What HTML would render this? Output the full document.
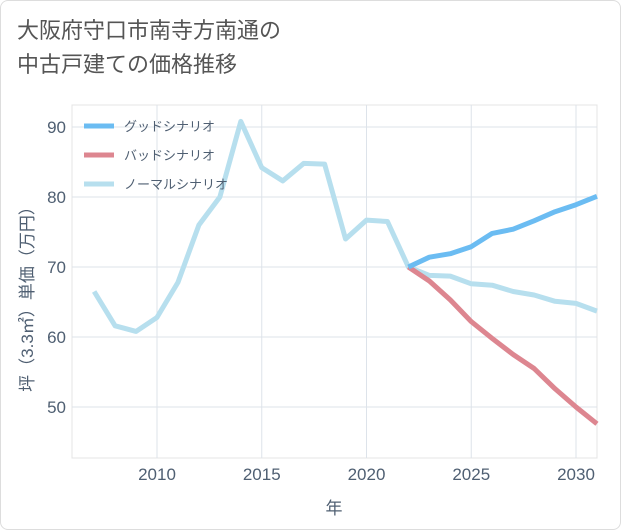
<!DOCTYPE html>
<html><head><meta charset="utf-8">
<style>
body{margin:0;background:#fff;font-family:"Liberation Sans","Noto Sans CJK JP",sans-serif;}
#wrap{position:relative;width:619px;height:528px;border:1px solid #ddd;border-radius:8px;background:#fff;overflow:hidden}
#title{position:absolute;left:16px;top:13px;font-size:22px;line-height:34px;color:#555;}
</style></head><body>
<div id="wrap">
<div id="title">大阪府守口市南寺方南通の<br>中古戸建ての価格推移</div>
<svg id="chart" width="621" height="530" style="position:absolute;left:-1px;top:-1px"></svg>
</div>
<script>
const years=[2007,2008,2009,2010,2011,2012,2013,2014,2015,2016,2017,2018,2019,2020,2021,2022,2023,2024,2025,2026,2027,2028,2029,2030,2031];
const normal=[66.5,61.6,60.8,62.8,67.8,76,80,90.8,84.2,82.3,84.8,84.7,74,76.7,76.5,70,68.8,68.7,67.6,67.4,66.5,66,65.1,64.8,63.7];
const futureYears=[2022,2023,2024,2025,2026,2027,2028,2029,2030,2031];
const good=[70,71.4,71.9,72.9,74.8,75.4,76.6,77.9,78.9,80.1];
const bad=[70,68,65.3,62.2,59.8,57.5,55.5,52.6,50,47.6];
const yTicks=[50,60,70,80,90];
const xTicks=[2010,2015,2020,2025,2030];
const ns='http://www.w3.org/2000/svg';
const svg=document.getElementById('chart');
const L=72,R=597,T=105,B=458;
const x=v=>157+(v-2010)*(576-157)/20;
const y=v=>267-(v-70)*7;
const tc='#4f5f72';
function mk(tag,attrs){const e=document.createElementNS(ns,tag);for(const k in attrs)e.setAttribute(k,attrs[k]);svg.appendChild(e);return e;}
const bg=mk('rect',{x:L,y:T,width:R-L,height:B-T,fill:'#fff',stroke:'#e4e4e4'});


yTicks.forEach(v=>{
 const g=mk('line',{x1:L,x2:R,y1:y(v),y2:y(v),stroke:'#dde3ea'});
 
 
 const t=mk('text',{x:L-6,y:y(v)+6,'text-anchor':'end','font-size':17,fill:tc});
 t.textContent=v;
 
 
});
xTicks.forEach(v=>{
 const g=mk('line',{x1:x(v),x2:x(v),y1:T,y2:B,stroke:'#dde3ea'});
 
 
 const t=mk('text',{x:x(v),y:B+22,'text-anchor':'middle','font-size':17,fill:tc});
 t.textContent=v;
 
 
});
function line(xs,ys,color,name){
 const p=mk('polyline',{points:xs.map((v,i)=>x(v)+','+y(ys[i])).join(' '),fill:'none',stroke:color,'stroke-width':5,'stroke-linejoin':'round'});
 
 
}
line(years,normal,'#b7dfee','normal-scenario-line');
line(futureYears,bad,'#dd8690','bad-scenario-line');
line(futureYears,good,'#6bbcf2','good-scenario-line');
const legend=[['グッドシナリオ','#6bbcf2'],['バッドシナリオ','#dd8690'],['ノーマルシナリオ','#b7dfee']];
legend.forEach((d,i)=>{
 const yy=126+i*29;
 const l=mk('line',{x1:84,x2:114,y1:yy,y2:yy,stroke:d[1],'stroke-width':5});
 
 
 const t=mk('text',{x:124,y:yy+5,'font-size':13,fill:tc});
 t.textContent=d[0];
 
 
});
const xt=mk('text',{x:334,y:514,'text-anchor':'middle','font-size':17,fill:tc});
xt.textContent='年';


const yt=mk('text',{x:0,y:0,'text-anchor':'middle','font-size':17,fill:tc,transform:'translate(33,295) rotate(-90)'});
yt.textContent='坪（3.3㎡）単価（万円）';


</script>
</body></html>
